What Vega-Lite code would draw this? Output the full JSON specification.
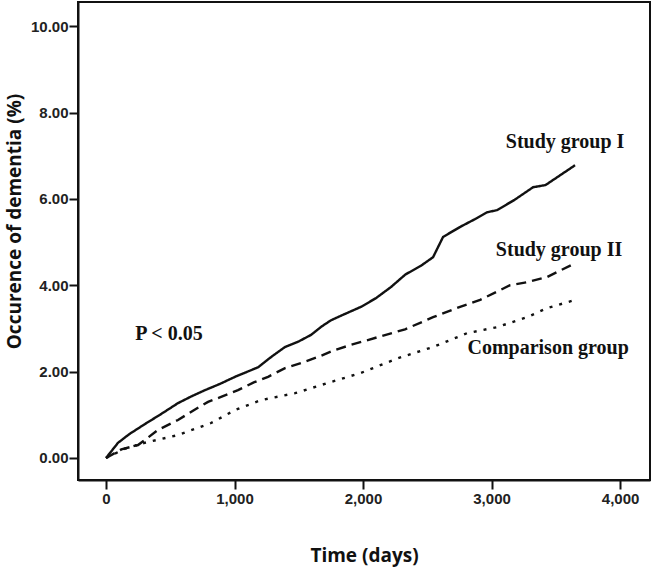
{
  "$schema": "https://vega.github.io/schema/vega-lite/v6.json",
  "autosize": {"type": "none"},
  "padding": {"left": 78, "top": 2, "right": 2, "bottom": 88},
  "width": 572,
  "height": 478,
  "config": {
    "view": {"stroke": "#111", "strokeWidth": 2},
    "axis": {
      "domainColor": "#111", "domainWidth": 2, "tickColor": "#111", "tickWidth": 2, "tickSize": 9,
      "grid": false, "labelFont": "Liberation Sans", "labelFontWeight": "bold", "labelFontSize": 15,
      "labelColor": "#222", "titleFont": "Open Sans", "titleFontWeight": "bold", "titleFontSize": 19, "titleColor": "#111"
    }
  },
  "datasets": {
    "curves": [
      {"group": "Study group I", "time": 0, "value": 0},
      {"group": "Study group I", "time": 40, "value": 0.15},
      {"group": "Study group I", "time": 93, "value": 0.35},
      {"group": "Study group I", "time": 180, "value": 0.55},
      {"group": "Study group I", "time": 300, "value": 0.78},
      {"group": "Study group I", "time": 430, "value": 1.02},
      {"group": "Study group I", "time": 560, "value": 1.27},
      {"group": "Study group I", "time": 660, "value": 1.42},
      {"group": "Study group I", "time": 770, "value": 1.57},
      {"group": "Study group I", "time": 890, "value": 1.72},
      {"group": "Study group I", "time": 1004, "value": 1.88},
      {"group": "Study group I", "time": 1183, "value": 2.1},
      {"group": "Study group I", "time": 1290, "value": 2.35},
      {"group": "Study group I", "time": 1393, "value": 2.57},
      {"group": "Study group I", "time": 1500, "value": 2.7},
      {"group": "Study group I", "time": 1595, "value": 2.85},
      {"group": "Study group I", "time": 1680, "value": 3.05},
      {"group": "Study group I", "time": 1751, "value": 3.19},
      {"group": "Study group I", "time": 1870, "value": 3.35},
      {"group": "Study group I", "time": 1984, "value": 3.5},
      {"group": "Study group I", "time": 2100, "value": 3.7},
      {"group": "Study group I", "time": 2218, "value": 3.96},
      {"group": "Study group I", "time": 2330, "value": 4.25},
      {"group": "Study group I", "time": 2450, "value": 4.45},
      {"group": "Study group I", "time": 2545, "value": 4.65},
      {"group": "Study group I", "time": 2623, "value": 5.12},
      {"group": "Study group I", "time": 2755, "value": 5.35},
      {"group": "Study group I", "time": 2870, "value": 5.53},
      {"group": "Study group I", "time": 2965, "value": 5.69},
      {"group": "Study group I", "time": 3043, "value": 5.74},
      {"group": "Study group I", "time": 3180, "value": 5.98},
      {"group": "Study group I", "time": 3323, "value": 6.27},
      {"group": "Study group I", "time": 3420, "value": 6.32},
      {"group": "Study group I", "time": 3510, "value": 6.5},
      {"group": "Study group I", "time": 3650, "value": 6.78},
      {"group": "Study group II", "time": 0, "value": 0},
      {"group": "Study group II", "time": 120, "value": 0.2},
      {"group": "Study group II", "time": 249, "value": 0.3},
      {"group": "Study group II", "time": 330, "value": 0.48},
      {"group": "Study group II", "time": 405, "value": 0.65},
      {"group": "Study group II", "time": 560, "value": 0.88},
      {"group": "Study group II", "time": 680, "value": 1.1},
      {"group": "Study group II", "time": 794, "value": 1.3},
      {"group": "Study group II", "time": 900, "value": 1.42},
      {"group": "Study group II", "time": 1027, "value": 1.57},
      {"group": "Study group II", "time": 1150, "value": 1.75},
      {"group": "Study group II", "time": 1261, "value": 1.88},
      {"group": "Study group II", "time": 1393, "value": 2.08},
      {"group": "Study group II", "time": 1520, "value": 2.2},
      {"group": "Study group II", "time": 1650, "value": 2.34},
      {"group": "Study group II", "time": 1780, "value": 2.5},
      {"group": "Study group II", "time": 1907, "value": 2.62},
      {"group": "Study group II", "time": 2117, "value": 2.8},
      {"group": "Study group II", "time": 2327, "value": 2.98},
      {"group": "Study group II", "time": 2545, "value": 3.26},
      {"group": "Study group II", "time": 2755, "value": 3.5},
      {"group": "Study group II", "time": 2911, "value": 3.66},
      {"group": "Study group II", "time": 3144, "value": 4.0},
      {"group": "Study group II", "time": 3276, "value": 4.07},
      {"group": "Study group II", "time": 3432, "value": 4.19},
      {"group": "Study group II", "time": 3650, "value": 4.51},
      {"group": "Comparison group", "time": 0, "value": 0},
      {"group": "Comparison group", "time": 150, "value": 0.22},
      {"group": "Comparison group", "time": 300, "value": 0.35},
      {"group": "Comparison group", "time": 560, "value": 0.53},
      {"group": "Comparison group", "time": 817, "value": 0.81},
      {"group": "Comparison group", "time": 1004, "value": 1.11},
      {"group": "Comparison group", "time": 1206, "value": 1.34},
      {"group": "Comparison group", "time": 1471, "value": 1.5},
      {"group": "Comparison group", "time": 1728, "value": 1.74},
      {"group": "Comparison group", "time": 1984, "value": 1.97},
      {"group": "Comparison group", "time": 2280, "value": 2.32},
      {"group": "Comparison group", "time": 2545, "value": 2.57},
      {"group": "Comparison group", "time": 2809, "value": 2.89},
      {"group": "Comparison group", "time": 3043, "value": 3.03},
      {"group": "Comparison group", "time": 3276, "value": 3.26},
      {"group": "Comparison group", "time": 3432, "value": 3.47},
      {"group": "Comparison group", "time": 3650, "value": 3.66}
    ],
    "labels": [
      {"label": "Study group I", "time": 3572, "value": 7.31},
      {"label": "Study group II", "time": 3525, "value": 4.81},
      {"label": "Comparison group", "time": 3440, "value": 2.55},
      {"label": "P < 0.05", "time": 490, "value": 2.87}
    ]
  },
  "layer": [
    {
      "data": {"name": "curves"},
      "mark": {"type": "line", "strokeWidth": 2.4, "color": "#111"},
      "encoding": {
        "x": {
          "field": "time", "type": "quantitative",
          "scale": {"domain": [-218, 4233], "nice": false, "zero": false},
          "axis": {"values": [0, 1000, 2000, 3000, 4000], "format": ",.0f", "title": "Time (days)", "titleY": 75, "titleBaseline": "middle", "labelPadding": 2}
        },
        "y": {
          "field": "value", "type": "quantitative",
          "scale": {"domain": [-0.51, 10.56], "nice": false, "zero": false},
          "axis": {"values": [0, 2, 4, 6, 8, 10], "format": ".2f", "title": "Occurence of dementia (%)", "titleX": -64, "titleY": 219, "titleBaseline": "middle", "labelPadding": 1}
        },
        "detail": {"field": "group"},
        "strokeDash": {
          "field": "group", "type": "nominal",
          "scale": {"domain": ["Study group I", "Study group II", "Comparison group"], "range": [[1, 0], [10, 6], [3, 7]]},
          "legend": null
        },
        "order": {"field": "time", "type": "quantitative"}
      }
    },
    {
      "data": {"name": "labels"},
      "mark": {"type": "text", "font": "Liberation Serif", "fontWeight": "bold", "fontSize": 20, "color": "#111", "align": "center", "baseline": "middle"},
      "encoding": {
        "x": {"field": "time", "type": "quantitative"},
        "y": {"field": "value", "type": "quantitative"},
        "text": {"field": "label"}
      }
    }
  ]
}
